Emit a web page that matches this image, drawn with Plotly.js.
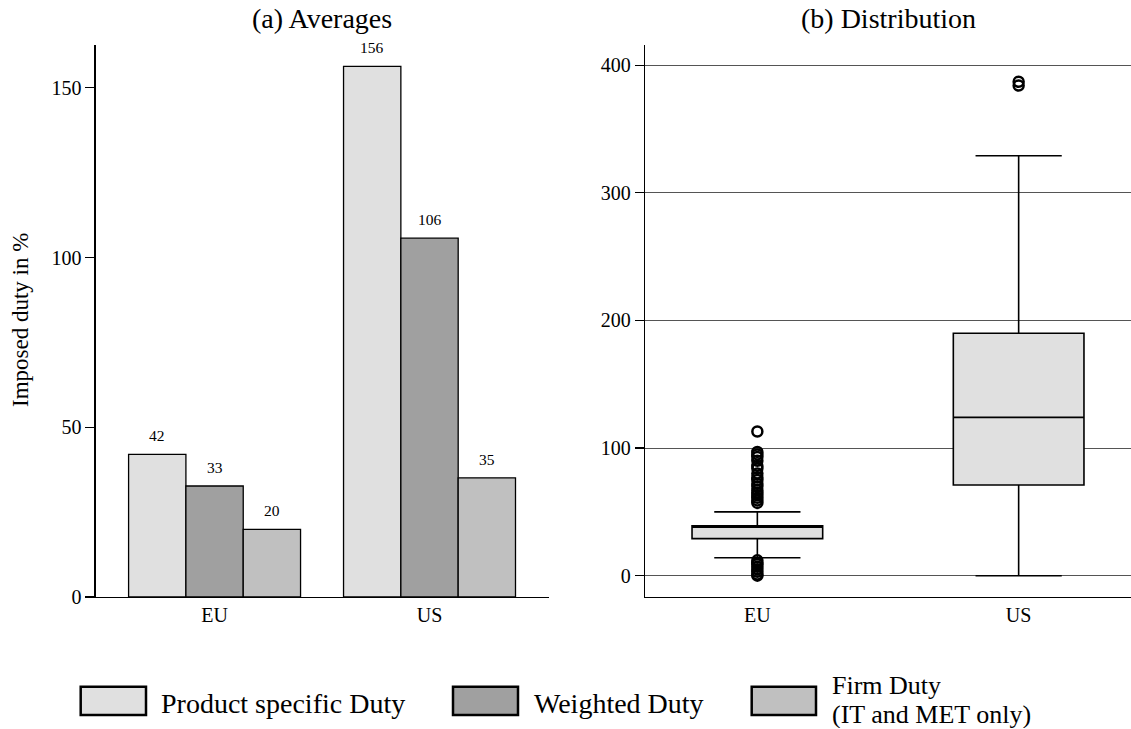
<!DOCTYPE html>
<html>
<head>
<meta charset="utf-8">
<script src="https://cdn.plot.ly/plotly-3.0.1.min.js"></script>
<style>html,body{margin:0;padding:0;background:#fff;}#chart{width:1131px;height:729px;}</style>
</head>
<body>
<div id="chart"></div>
<script>
// ---- data ----
const categories = ['EU', 'US'];
const seriesNames = ['Product specific Duty', 'Weighted Duty', 'Firm Duty<br>(IT and MET only)'];
const productDuty = [42.0, 156.3];
const weightedDuty = [32.7, 105.7];
const firmDuty = [19.9, 35.1];

const boxCategories = ['EU', 'US'];
const boxQ1 = [29, 71];
const boxMedian = [38, 124];
const boxQ3 = [39, 190];
const boxLowerFence = [14, 0];
const boxUpperFence = [50, 329];
const euOutliers = [113, 97, 95, 93, 90, 86, 84, 80, 77, 75, 72, 70, 67, 65, 63, 61, 59, 57, 12, 10, 9, 7, 5, 3, 1, 0];
const usOutliers = [384, 387];

const panelTitles = ['(a) Averages', '(b) Distribution'];
const yTitle = 'Imposed duty in %';

// ---- style ----
const W = 1131, H = 729;
const FONT = 'Liberation Serif, "Times New Roman", serif';
const colors = ['#e0e0e0', '#a0a0a0', '#c0c0c0'];
const px = (v) => v / W;
const py = (v) => 1 - v / H;

const leftDom = [px(95.7), px(548.6)];
const rightDom = [px(645), 1];
const yDom = [py(597), py(45)];
const xRange1 = [-0.553, 1.554];
const bargap = 0.2;

const series = [productDuty, weightedDuty, firmDuty];
const traces = series.map((vals, i) => ({
  type: 'bar',
  x: categories,
  y: vals,
  name: seriesNames[i],
  marker: {color: colors[i], line: {color: '#000', width: 1.3}},
  xaxis: 'x', yaxis: 'y',
  hoverinfo: 'skip',
  showlegend: false
}));

traces.push({
  type: 'box',
  x: boxCategories,
  q1: boxQ1, median: boxMedian, q3: boxQ3,
  lowerfence: boxLowerFence, upperfence: boxUpperFence,
  boxpoints: false,
  width: 0.5,
  whiskerwidth: 0.66,
  fillcolor: '#e0e0e0',
  line: {color: '#000', width: 1.6},
  xaxis: 'x2', yaxis: 'y2',
  hoverinfo: 'skip',
  showlegend: false
});

const outlierStyle = {symbol: 'circle-open', size: 10, color: '#000', line: {width: 2.5, color: '#000'}};
traces.push({
  type: 'scatter', mode: 'markers',
  x: euOutliers.map(() => 'EU'), y: euOutliers,
  marker: outlierStyle, xaxis: 'x2', yaxis: 'y2', hoverinfo: 'skip', showlegend: false
});
traces.push({
  type: 'scatter', mode: 'markers',
  x: usOutliers.map(() => 'US'), y: usOutliers,
  marker: outlierStyle, xaxis: 'x2', yaxis: 'y2', hoverinfo: 'skip', showlegend: false
});

// bar value labels
const plotWpx = (leftDom[1] - leftDom[0]) * W;
const barPx = plotWpx / (xRange1[1] - xRange1[0]) * (1 - bargap) / series.length;
const annotations = [];
series.forEach((vals, i) => {
  vals.forEach((v, j) => {
    annotations.push({
      xref: 'x', yref: 'y', x: categories[j], y: v,
      xshift: (i - (series.length - 1) / 2) * barPx, yshift: 8,
      yanchor: 'bottom', showarrow: false,
      text: String(Math.round(v)),
      font: {family: FONT, size: 15.5, color: '#000'}
    });
  });
});

// panel titles
annotations.push({xref: 'paper', yref: 'paper', x: (leftDom[0] + leftDom[1]) / 2, y: py(19), text: panelTitles[0],
  showarrow: false, xanchor: 'center', yanchor: 'middle', font: {family: FONT, size: 28, color: '#000'}});
annotations.push({xref: 'paper', yref: 'paper', x: (rightDom[0] + rightDom[1]) / 2, y: py(19), text: panelTitles[1],
  showarrow: false, xanchor: 'center', yanchor: 'middle', font: {family: FONT, size: 28, color: '#000'}});
// y title
annotations.push({xref: 'paper', yref: 'paper', x: px(21), y: py(320), text: yTitle, textangle: -90,
  showarrow: false, xanchor: 'center', yanchor: 'middle', font: {family: FONT, size: 23, color: '#000'}});

// legend (manual)
const legendBoxes = [[80.7, 146], [453, 518], [751.7, 816]];
const legendTextX = [160, 533, 831];
const legendLineY = [[703], [703], [685, 714]];
const legendFontSize = [28, 28, 26];
const shapes = [];
legendBoxes.forEach((b, i) => {
  shapes.push({type: 'rect', xref: 'paper', yref: 'paper', x0: px(b[0]), x1: px(b[1]), y0: py(715), y1: py(686.7),
    fillcolor: colors[i], line: {color: '#000', width: 2.5}});
  const lines = seriesNames[i].split('<br>');
  lines.forEach((line, k) => {
    const ann = {xref: 'paper', yref: 'paper', x: px(legendTextX[i]), y: py(legendLineY[i][k]), text: line,
      showarrow: false, xanchor: 'left', yanchor: 'middle', align: 'left', borderpad: 0,
      font: {family: FONT, size: legendFontSize[i], color: '#000'}};
    if (lines.length > 1) { ann.height = 28; ann.valign = 'middle'; }
    annotations.push(ann);
  });
});

const axisCommon = {
  showline: true, linecolor: '#000', linewidth: 1.3, zeroline: false,
  tickfont: {family: FONT, size: 20, color: '#000'}, fixedrange: true
};

const layout = {
  width: W, height: H,
  margin: {l: 0, r: 0, t: 0, b: 0},
  paper_bgcolor: '#fff', plot_bgcolor: '#fff',
  barmode: 'group', bargap: bargap, bargroupgap: 0,
  showlegend: false,
  font: {family: FONT, color: '#000'},
  xaxis: Object.assign({}, axisCommon, {domain: leftDom, anchor: 'y', type: 'category', range: xRange1,
    ticks: '', showgrid: false}),
  yaxis: Object.assign({}, axisCommon, {domain: yDom, anchor: 'x', range: [0, 162.6],
    tickvals: [0, 50, 100, 150], ticks: 'outside', ticklen: 9, tickwidth: 1.3, tickcolor: '#000', showgrid: false}),
  xaxis2: Object.assign({}, axisCommon, {domain: rightDom, anchor: 'y2', type: 'category', range: [-0.43, 1.43],
    ticks: '', showgrid: false}),
  yaxis2: Object.assign({}, axisCommon, {domain: yDom, anchor: 'x2', range: [-16.7, 415.8],
    tickvals: [0, 100, 200, 300, 400], ticks: 'outside', ticklen: 9, tickwidth: 1.3, tickcolor: '#000',
    showgrid: true, gridcolor: '#555', gridwidth: 1}),
  annotations: annotations,
  shapes: shapes
};

Plotly.newPlot('chart', traces, layout, {staticPlot: true, displayModeBar: false});
</script>
</body>
</html>
